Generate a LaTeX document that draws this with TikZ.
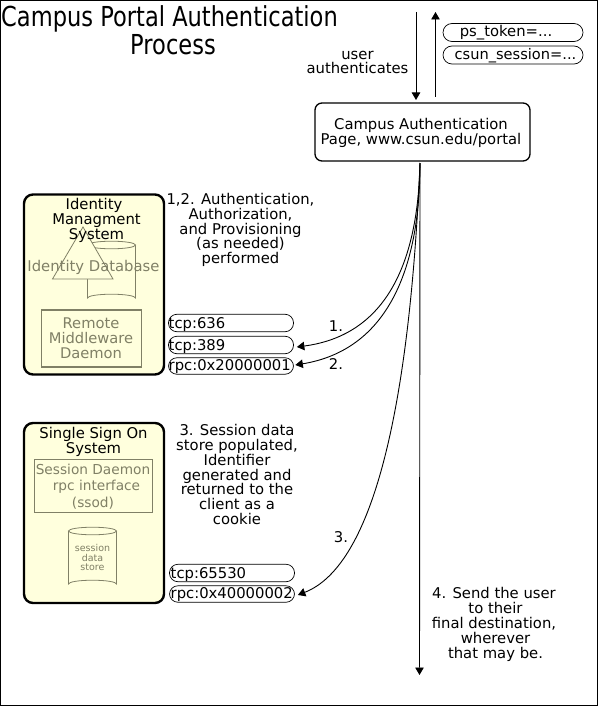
\documentclass[tikz,border=0pt]{standalone}
\usepackage{fontspec}
\setmainfont{DejaVu Sans}
\newfontfamily\titlefont[FakeStretch=0.82]{DejaVu Sans}
\usetikzlibrary{arrows.meta}
\definecolor{boxfill}{HTML}{FFFFDD}
\definecolor{dim}{HTML}{808066}
\tikzset{
  x=1pt,y=-1pt,
  sysbox/.style={draw=black,line width=2.4pt,fill=boxfill,rounded corners=9pt,minimum width=140pt},
  lab/.style={align=center,font=\fontsize{14.8}{14.8}\selectfont,inner sep=0pt},
  pill/.style={draw=black,line width=0.7pt,rounded corners=8.5pt,minimum width=125pt,minimum height=17.5pt,inner sep=0pt},
  porttext/.style={font=\fontsize{14.8}{15}\selectfont,inner sep=0pt,anchor=west},
  dimlab/.style={align=center,text=dim,inner sep=0pt},
  dimshape/.style={draw=dim,line width=0.8pt},
  flow/.style={draw=black,line width=0.9pt,-{Triangle[length=7.5pt,width=8.5pt]}},
}
\begin{document}
\begin{tikzpicture}
\useasboundingbox (0,0) rectangle (598,706);
\draw[line width=1pt] (0.5,0.5) rectangle (597.5,705.5);
% title
\node[anchor=center,align=center,inner sep=0pt,font=\titlefont\fontsize{27.5}{28}\selectfont] (title) at (169.5,30) {Campus Portal Authentication\\\hspace*{7pt}Process};
% campus page
\node[draw=black,line width=1.3pt,rounded corners=7pt,minimum width=215pt,minimum height=58pt,inner sep=0pt] (page) at (422.5,132) {};
\node[lab,font=\fontsize{14.8}{15.5}\selectfont] (paget) at (421,133) {Campus Authentication\\Page, www.csun.edu/portal};
\coordinate (intop) at (416,12);
\coordinate (inend) at (416,100);
\coordinate (outstart) at (435.5,97);
\coordinate (outend) at (435.5,12);
\draw[flow] (intop) -- (inend);
\draw[flow] (outstart) -- (outend);
\node[lab] (ua) at (357.5,62.5) {user\\authenticates};
\node[pill,minimum width=140pt,minimum height=18pt,rounded corners=9pt] (ps) at (513,32.5) {};
\node[porttext,anchor=center] (pst) at (506,33) {ps\_token=...};
\node[pill,minimum width=140pt,minimum height=18pt,rounded corners=9pt] (cs) at (513,55) {};
\node[porttext,anchor=center,font=\fontsize{14.6}{15}\selectfont] (cst) at (515.5,56) {csun\_session=...};
% identity system
\node[sysbox,minimum height=180pt] (ims) at (94,284.5) {};
\draw[dimshape,fill=boxfill] (87.5,245) -- (87.5,298) arc[start angle=180,end angle=360,x radius=24,y radius=3.8] -- (135.5,245);
\draw[dimshape,fill=boxfill] (111.5,245) ellipse[x radius=24,y radius=3.8];
\draw[dimshape,fill=boxfill] (83,227) -- (113,279) -- (52.5,279) -- cycle;
\node[lab] (imst) at (96.5,220.5) {\hspace*{-5pt}Identity\\Managment\\System};
\node[dimlab,font=\fontsize{14.8}{16}\selectfont] (idb) at (93.5,267) {Identity Database};
\node[dimshape,line width=1.5pt,minimum width=100pt,minimum height=57pt] (rmd) at (91.5,338.5) {};
\node[dimlab,font=\fontsize{14.7}{15}\selectfont] (rmdt) at (91,338) {Remote\\Middleware\\Daemon};
\node[lab] (t12) at (240.5,230) {1,2. Authentication,\\Authorization,\\and Provisioning\\(as needed)\\performed};
\node[pill] (p636) at (231,323) {};
\node[porttext] (t636) at (168.5,324.5) {tcp:636};
\node[pill] (p389) at (231,345) {};
\node[porttext] (t389) at (168.5,346.5) {tcp:389};
\node[pill,minimum height=16.5pt] (prpc1) at (231,366) {};
\node[porttext] (trpc1) at (168.5,367) {rpc:0x20000001};
% sso
\node[sysbox,minimum height=180pt] (sso) at (94,513) {};
\node[lab] (ssot) at (93.5,442) {Single Sign On\\System};
\node[dimshape,line width=1pt,minimum width=118pt,minimum height=53pt] (sd) at (93.5,486) {};
\node[dimlab,font=\fontsize{13.7}{16.5}\selectfont] (sdt) at (93,486.5) {Session Daemon\\\hspace*{7pt}rpc interface\\(ssod)};
\draw[dimshape,fill=boxfill] (68.5,531) -- (68.5,584) arc[start angle=180,end angle=360,x radius=24,y radius=3.8] -- (116.5,531);
\draw[dimshape,fill=boxfill] (92.5,531) ellipse[x radius=24,y radius=3.8];
\node[dimlab,font=\fontsize{9.5}{9.5}\selectfont] (sdst) at (92.5,557.5) {session\\data\\store};
\node[lab] (t3) at (237,474.5) {3. Session data\\store populated,\\Identifier\\generated and\\returned to the\\client as a\\cookie};
\node[pill] (p655) at (232,573) {};
\node[porttext] (t655) at (170.5,574.5) {tcp:65530};
\node[pill,minimum height=16.5pt] (prpc2) at (232,594) {};
\node[porttext] (trpc2) at (170.5,595) {rpc:0x40000002};
% flows
\coordinate (fork) at (420,163);
\coordinate (down) at (419.5,675);
\draw[flow] (fork) .. controls (418,260) and (388,335) .. ([shift={(3,2)}]p389.east);
\draw[flow] (fork) .. controls (420,270) and (387,350) .. ([shift={(1.5,-1)}]prpc1.east);
\draw[flow] (fork) .. controls (410,400) and (375,565) .. ([shift={(3,1)}]prpc2.east);
\draw[flow] (fork) -- (down);
\node[lab] (n1) at (336,326) {1.};
\node[lab] (n2) at (336,364) {2.};
\node[lab] (n3) at (341,537) {3.};
\node[lab] (t4) at (494,624.5) {4. Send the user\\\hspace*{3pt}to their\\final destination,\\\hspace*{3pt}wherever\\\hspace*{3pt}that may be.};
\end{tikzpicture}
\end{document}
